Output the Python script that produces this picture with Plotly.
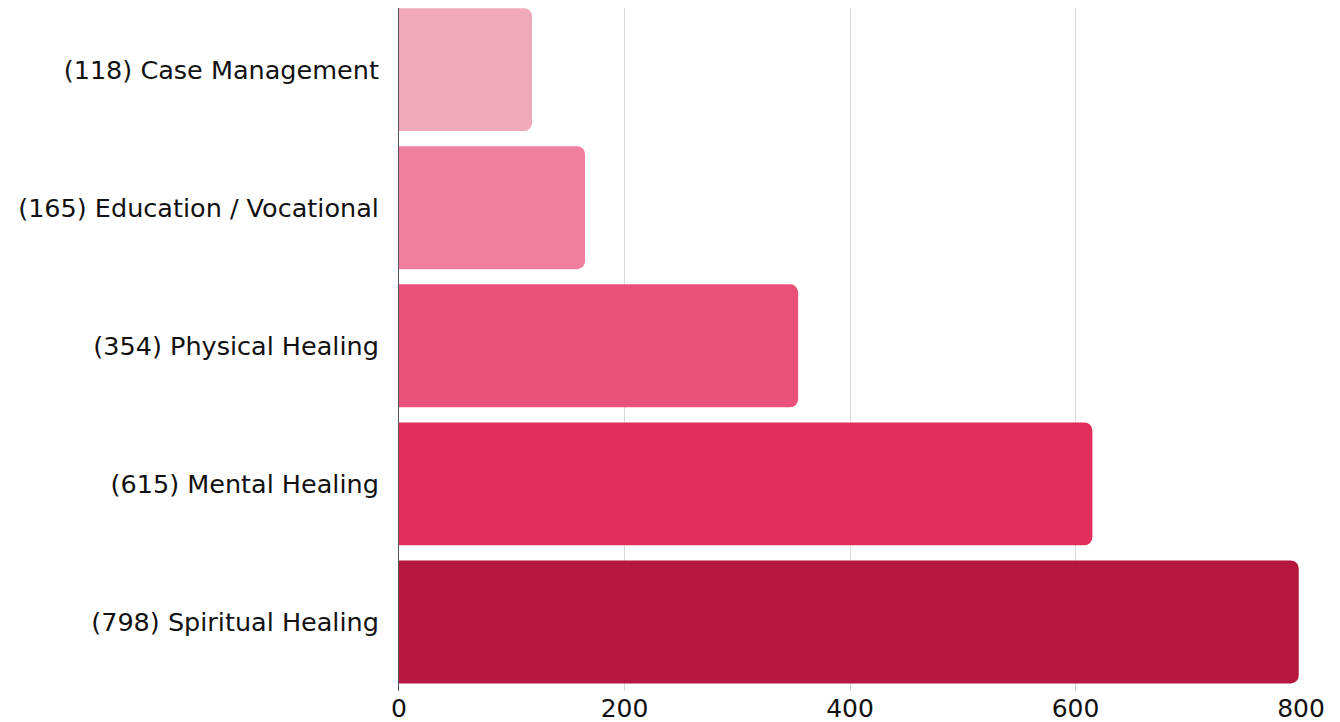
import plotly.graph_objects as go

categories = ["(118) Case Management", "(165) Education / Vocational", "(354) Physical Healing",
              "(615) Mental Healing", "(798) Spiritual Healing"]
values = [118, 165, 354, 615, 798]
colors = ["#F0A9BB", "#F07F9D", "#E9517B", "#E32D5B", "#B5173E"]
x_ticks = [0, 200, 400, 600, 800]

fig = go.Figure(go.Bar(
    y=categories, x=values, orientation="h",
    marker=dict(color=colors, line=dict(width=0)),
    hoverinfo="x+y",
))
fig.update_layout(
    width=1332, height=714,
    margin=dict(l=391, r=39, t=0, b=31, autoexpand=False),
    paper_bgcolor="white", plot_bgcolor="white",
    bargap=0.11, barcornerradius=8,
    font=dict(family="DejaVu Sans, sans-serif", size=25.5, color="#111111"),
    showlegend=False,
)
fig.update_xaxes(range=[0, 800], tickvals=x_ticks, showgrid=True, gridcolor="#D9D9D9",
                 gridwidth=1, zeroline=False, showline=False, ticks="",
                 ticklabelstandoff=0, automargin=False,
                 tickfont=dict(size=25))
fig.update_yaxes(range=[4.5, -0.446], showline=True, linecolor="#555555", linewidth=1,
                 ticks="", ticklabelstandoff=14, automargin=False, tickfont=dict(size=25.5))
fig.write_html("out.html")
